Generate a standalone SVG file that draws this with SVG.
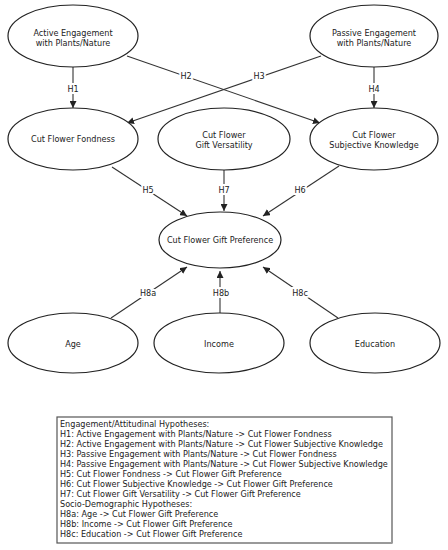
<svg xmlns="http://www.w3.org/2000/svg" width="448" height="550" viewBox="0 0 448 550">
<defs>
<marker id="arr" viewBox="0 0 10 10" refX="10" refY="5" markerWidth="7" markerHeight="7" markerUnits="userSpaceOnUse" orient="auto">
<path d="M0,0 L10,5 L0,10 z" fill="#222"/>
</marker>
</defs>
<style>
.node ellipse{fill:#fff;stroke:#222;stroke-width:1.2}
.node text{font-family:"DejaVu Sans",sans-serif;font-size:8.1px;fill:#222;text-anchor:middle}
.edge line{stroke:#333;stroke-width:1.1;marker-end:url(#arr)}
.lbl{font-family:"DejaVu Sans",sans-serif;font-size:8.1px;fill:#222;text-anchor:middle;stroke:#fff;stroke-width:4;paint-order:stroke}
.legend text{font-family:"DejaVu Sans",sans-serif;font-size:8.1px;fill:#222}
</style>
<rect width="448" height="550" fill="#fff"/>
<g id="connectors" class="edge">
<line x1="73" y1="67" x2="73" y2="108"/>
<line x1="127" y1="56" x2="320" y2="123"/>
<line x1="321" y1="56" x2="127" y2="123"/>
<line x1="374" y1="67" x2="374" y2="108"/>
<line x1="112" y1="167" x2="187" y2="216"/>
<line x1="224" y1="170" x2="224" y2="211"/>
<line x1="339" y1="166" x2="263" y2="216"/>
<line x1="111" y1="318" x2="187" y2="267"/>
<line x1="220" y1="313" x2="220" y2="271"/>
<line x1="338" y1="318" x2="263" y2="267"/>
<text class="lbl" x="73" y="92">H1</text>
<text class="lbl" x="186" y="79">H2</text>
<text class="lbl" x="259" y="79">H3</text>
<text class="lbl" x="374" y="92">H4</text>
<text class="lbl" x="148" y="193">H5</text>
<text class="lbl" x="224" y="193">H7</text>
<text class="lbl" x="300" y="193">H6</text>
<text class="lbl" x="148" y="296">H8a</text>
<text class="lbl" x="221" y="296">H8b</text>
<text class="lbl" x="300" y="296">H8c</text>
</g>
<g id="active" class="node"><ellipse cx="73" cy="36" rx="65" ry="31"/><text x="73" y="36">Active Engagement</text><text x="73" y="46">with Plants/Nature</text></g>
<g id="passive" class="node"><ellipse cx="374" cy="36" rx="64" ry="31"/><text x="374" y="36">Passive Engagement</text><text x="374" y="46">with Plants/Nature</text></g>
<g id="fondness" class="node"><ellipse cx="73" cy="139" rx="65" ry="31"/><text x="73" y="142">Cut Flower Fondness</text></g>
<g id="versatility" class="node"><ellipse cx="224" cy="139" rx="66" ry="31"/><text x="224" y="138">Cut Flower</text><text x="224" y="148">Gift Versatility</text></g>
<g id="knowledge" class="node"><ellipse cx="374" cy="139" rx="64" ry="31"/><text x="374" y="138">Cut Flower</text><text x="374" y="148">Subjective Knowledge</text></g>
<g id="preference" class="node"><ellipse cx="220" cy="240" rx="61" ry="28"/><text x="220" y="243">Cut Flower Gift Preference</text></g>
<g id="age" class="node"><ellipse cx="73" cy="343" rx="65" ry="30"/><text x="73" y="347">Age</text></g>
<g id="income" class="node"><ellipse cx="219" cy="343" rx="65" ry="30"/><text x="219" y="347">Income</text></g>
<g id="education" class="node"><ellipse cx="375" cy="343" rx="65" ry="30"/><text x="375" y="347">Education</text></g>
<g id="legend" class="legend">
<rect x="57" y="417" width="335" height="126" fill="#fff" stroke="#555" stroke-width="1.2"/>
<line x1="58" y1="543" x2="392" y2="543" stroke="#999" stroke-width="2"/>
<text x="60" y="427">Engagement/Attitudinal Hypotheses:</text>
<text x="60" y="437">H1: Active Engagement with Plants/Nature -&gt; Cut Flower Fondness</text>
<text x="60" y="447">H2: Active Engagement with Plants/Nature -&gt; Cut Flower Subjective Knowledge</text>
<text x="60" y="457">H3: Passive Engagement with Plants/Nature -&gt; Cut Flower Fondness</text>
<text x="60" y="467">H4: Passive Engagement with Plants/Nature -&gt; Cut Flower Subjective Knowledge</text>
<text x="60" y="477">H5: Cut Flower Fondness -&gt; Cut Flower Gift Preference</text>
<text x="60" y="487">H6: Cut Flower Subjective Knowledge -&gt; Cut Flower Gift Preference</text>
<text x="60" y="497">H7: Cut Flower Gift Versatility -&gt; Cut Flower Gift Preference</text>
<text x="60" y="507">Socio-Demographic Hypotheses:</text>
<text x="60" y="517">H8a: Age -&gt; Cut Flower Gift Preference</text>
<text x="60" y="527">H8b: Income -&gt; Cut Flower Gift Preference</text>
<text x="60" y="537">H8c: Education -&gt; Cut Flower Gift Preference</text>
</g>
</svg>
